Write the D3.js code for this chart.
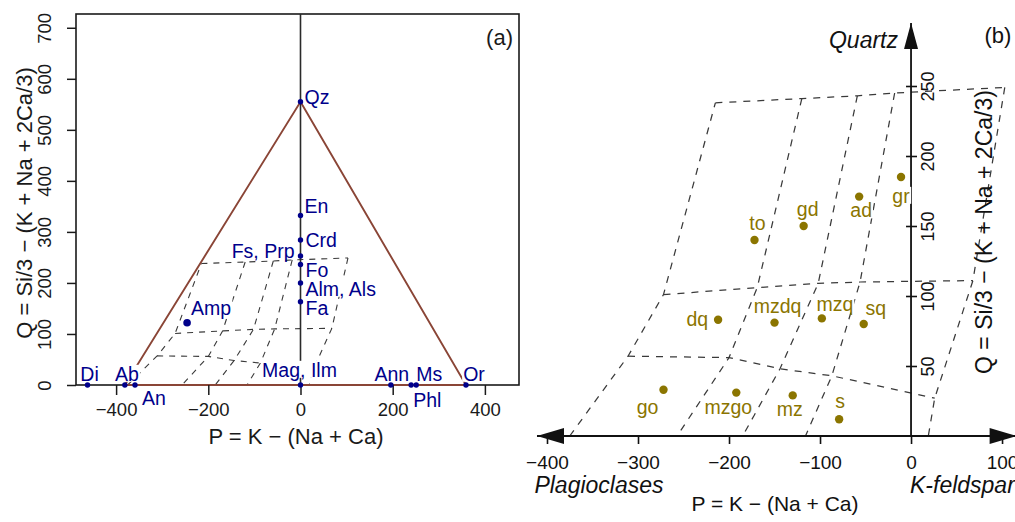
<!DOCTYPE html>
<html>
<head>
<meta charset="utf-8">
<script src="https://d3js.org/d3.v7.min.js"></script>
<style>
  body { margin: 0; background: #fff; }
  text { font-family: "Liberation Sans", Arial, sans-serif; }
</style>
</head>
<body>
<svg id="fig" width="1015" height="522"></svg>
<script>
// ---- panel (a): mineral end-members in the P-Q plane
var minNames = ["Qz", "En", "Crd", "Fs, Prp", "Fo", "Alm, Als", "Fa", "Mag, Ilm",
                "Di", "Ab", "An", "Ann", "Phl", "Ms", "Or"];
var minP = [0, 0, 0, 0, 0, 0, 0, 0, -462, -381, -359, 196, 240, 251, 359];
var minQ = [555, 332, 284, 253, 236, 200, 163, 0, 0, 0, 0, 0, 0, 0, 0];
var ampName = ["Amp"];
var ampP = [-246];
var ampQ = [122];
// triangle Qz - Or - Ab
var triangle = ["Qz", "Or", "Ab"];

// ---- panel (b): rock types
var rockNames = ["to", "gd", "ad", "gr", "dq", "mzdq", "mzq", "sq", "go", "mzgo", "mz", "s"];
var rockP = [-172, -118, -57, -11, -212, -150, -98, -52, -272, -192, -130, -79];
var rockQ = [140, 150, 171, 185, 83, 81, 84, 80, 33, 31, 29, 12];

// ---- field boundaries (same grid in both panels)
var gridTop = [[-215, 238], [-120, 241], [-59, 243], [-18, 245], [103, 249]];
var gridMid = [[-272, 101], [-169, 106], [-102, 109], [-56, 110], [68, 111]];
var gridLow = [[-311, 57], [-200, 56], [-144, 48], [-87, 43], [26, 27]];
var gridLeft = [[-375, 0], [-311, 57], [-272, 101], [-215, 238]];
var gridRight = [[103, 249], [68, 111], [26, 27], [19, 0]];
var gridDiv1 = [[-120, 241], [-169, 106], [-200, 56], [-257, 0]];
var gridDiv2 = [[-59, 243], [-102, 109], [-144, 48], [-185, 0]];
var gridDiv3 = [[-18, 245], [-56, 110], [-87, 43], [-116, 0]];
var grid = [gridTop, gridMid, gridLow, gridLeft, gridRight, gridDiv1, gridDiv2, gridDiv3];

// ---- ticks
var aTicksP = [-400, -200, 0, 200, 400];
var aTicksQ = [0, 100, 200, 300, 400, 500, 600, 700];
var bTicksP = [-400, -300, -200, -100, 0, 100];
var bTicksQ = [50, 100, 150, 200, 250];

var blue = "#00008B", olive = "#8B7500", brown = "#8a4536";
var svg = d3.select("#fig");

// label offsets [dx, dy, anchor] in pixels
var aLab = {
  "Qz": [4, -5, "start"], "En": [4, -9, "start"], "Crd": [5, 0, "start"],
  "Fs, Prp": [-6, -5, "end"], "Fo": [5, 6, "start"], "Alm, Als": [5, 6, "start"],
  "Fa": [5, 6, "start"], "Mag, Ilm": [-1, -15, "middle"], "Di": [2, -11, "middle"],
  "Ab": [2, -11, "middle"], "An": [7, 13, "start"], "Ann": [1, -11, "middle"],
  "Phl": [2, 15, "start"], "Ms": [0, -11, "start"], "Or": [8, -11, "middle"],
  "Amp": [4, -15, "start"]
};
var bLab = {
  "to": [3, -17, "middle"], "gd": [4, -17, "middle"], "ad": [2, 14, "middle"],
  "gr": [0, 19, "middle"], "dq": [-10, -1, "end"], "mzdq": [3, -16, "middle"],
  "mzq": [13, -14, "middle"], "sq": [12, -16, "middle"], "go": [-16, 17, "middle"],
  "mzgo": [-8, 15, "middle"], "mz": [-3, 14, "middle"], "s": [1, -18, "middle"]
};

function label(g, x, y, txt, pos, fill, fs) {
  var lg = g.append("g");
  var r = lg.append("rect").attr("fill", "#fff");
  var t = lg.append("text")
    .attr("x", x + pos[0]).attr("y", y + pos[1]).attr("dy", "0.35em")
    .attr("text-anchor", pos[2]).attr("fill", fill)
    .style("font-size", fs + "px").text(txt);
  var bb = t.node().getBBox();
  r.attr("x", bb.x - 1).attr("y", bb.y + 2).attr("width", bb.width + 2).attr("height", bb.height - 5);
}

// ================= panel (a) =================
var xa = d3.scaleLinear().domain([-487, 474]).range([76, 519]);
var ya = d3.scaleLinear().domain([0, 727]).range([385, 14]);
var ga = svg.append("g");
var lineA = d3.line().x(d => xa(d[0])).y(d => ya(d[1]));

ga.append("rect")
  .attr("x", xa(-487)).attr("y", ya(727))
  .attr("width", xa(474) - xa(-487)).attr("height", ya(0) - ya(727))
  .attr("fill", "none").attr("stroke", "#1a1a1a").attr("stroke-width", 1.6);

ga.selectAll("path.grid").data(grid).enter().append("path")
  .attr("class", "grid").attr("d", lineA)
  .attr("fill", "none").attr("stroke", "#3a3a3a").attr("stroke-width", 1.1)
  .attr("stroke-dasharray", "6,6");

ga.append("line")
  .attr("x1", xa(0)).attr("x2", xa(0)).attr("y1", ya(0)).attr("y2", ya(727))
  .attr("stroke", "#2a2a2a").attr("stroke-width", 1.6);

var triPts = triangle.map(n => { var i = minNames.indexOf(n); return [minP[i], minQ[i]]; });
ga.append("path").attr("d", lineA(triPts) + "Z")
  .attr("fill", "none").attr("stroke", brown).attr("stroke-width", 1.9);

var axA = ga.append("g").attr("transform", "translate(0," + ya(0) + ")")
  .call(d3.axisBottom(xa).tickValues(aTicksP).tickSize(10).tickFormat(d => String(d).replace("-", "\u2212")));
axA.select(".domain").remove();
axA.selectAll("line").attr("stroke", "#1a1a1a").attr("stroke-width", 1.5);
axA.selectAll("text").attr("y", 25).attr("dy", "0.35em").attr("fill", "#1a1a1a")
  .style("font-size", "18.5px").style("font-family", "Liberation Sans, Arial, sans-serif");

var ayA = ga.append("g").attr("transform", "translate(" + xa(-487) + ",0)")
  .call(d3.axisLeft(ya).tickValues(aTicksQ).tickSize(9));
ayA.select(".domain").remove();
ayA.selectAll("line").attr("stroke", "#1a1a1a").attr("stroke-width", 1.5);
ayA.selectAll("text").attr("transform", "rotate(-90)").attr("x", 0).attr("y", -31)
  .attr("dy", "0.35em").attr("text-anchor", "middle").attr("fill", "#1a1a1a")
  .style("font-size", "18.5px").style("font-family", "Liberation Sans, Arial, sans-serif");

ga.append("text").attr("x", 296).attr("y", 436).attr("dy", "0.35em")
  .attr("text-anchor", "middle").style("font-size", "22px").attr("fill", "#1a1a1a")
  .text("P = K \u2212 (Na + Ca)");
ga.append("text").attr("transform", "translate(24,203) rotate(-90)").attr("dy", "0.35em")
  .attr("text-anchor", "middle").style("font-size", "22px").attr("fill", "#1a1a1a")
  .text("Q = Si/3 \u2212 (K + Na + 2Ca/3)");
ga.append("text").attr("x", 513).attr("y", 37).attr("dy", "0.35em")
  .attr("text-anchor", "end").style("font-size", "22px").attr("fill", "#1a1a1a").text("(a)");

minNames.forEach((n, i) => label(ga, xa(minP[i]), ya(minQ[i]), n, aLab[n], blue, 19.5));
ampName.forEach((n, i) => label(ga, xa(ampP[i]), ya(ampQ[i]), n, aLab[n], blue, 19.5));

ga.selectAll("circle.min").data(minNames).enter().append("circle")
  .attr("class", "min").attr("cx", (d, i) => xa(minP[i])).attr("cy", (d, i) => ya(minQ[i]))
  .attr("r", 2.7).attr("fill", blue);
ga.selectAll("circle.amp").data(ampName).enter().append("circle")
  .attr("class", "amp").attr("cx", (d, i) => xa(ampP[i])).attr("cy", (d, i) => ya(ampQ[i]))
  .attr("r", 3.8).attr("fill", blue);

// ================= panel (b) =================
var xb = d3.scaleLinear().domain([-420, 116]).range([528.8, 1016.6]);
var yb = d3.scaleLinear().domain([0, 295]).range([436, 23]);
var gb = svg.append("g");
var lineB = d3.line().x(d => xb(d[0])).y(d => yb(d[1]));

gb.selectAll("path.grid").data(grid).enter().append("path")
  .attr("class", "grid").attr("d", lineB)
  .attr("fill", "none").attr("stroke", "#3a3a3a").attr("stroke-width", 1.25)
  .attr("stroke-dasharray", "7,7");

// axes with arrows
var axB = gb.append("g").attr("transform", "translate(0," + yb(0) + ")")
  .call(d3.axisBottom(xb).tickValues(bTicksP).tickSize(8).tickFormat(d => String(d).replace("-", "\u2212")));
axB.select(".domain").remove();
axB.selectAll("line").attr("stroke", "#111").attr("stroke-width", 1.6);
axB.selectAll("text").attr("y", 26).attr("dy", "0.35em").attr("fill", "#111")
  .style("font-size", "19px").style("font-family", "Liberation Sans, Arial, sans-serif");

var ayB = gb.append("g").attr("transform", "translate(" + xb(0) + ",0)")
  .call(d3.axisRight(yb).tickValues(bTicksQ).tickSize(6));
ayB.select(".domain").remove();
ayB.selectAll("line").attr("x1", -5).attr("stroke", "#111").attr("stroke-width", 1.6);
ayB.selectAll("text").attr("transform", "rotate(-90)").attr("x", 0).attr("y", 17)
  .attr("dy", "0.35em").attr("text-anchor", "middle").attr("fill", "#111")
  .style("font-size", "18px").style("font-family", "Liberation Sans, Arial, sans-serif");

gb.append("line").attr("x1", xb(-411)).attr("x2", xb(116)).attr("y1", yb(0)).attr("y2", yb(0))
  .attr("stroke", "#111").attr("stroke-width", 1.8);
gb.append("line").attr("x1", xb(0)).attr("x2", xb(0)).attr("y1", yb(0)).attr("y2", yb(295))
  .attr("stroke", "#111").attr("stroke-width", 1.8);
// arrow heads
var x0 = xb(-411), x1 = xb(116), y0 = yb(0), yt = yb(295), cx = xb(0);
gb.append("path").attr("d", "M" + x0 + "," + y0 + "L" + (x0 + 27) + "," + (y0 - 8) + "L" + (x0 + 27) + "," + (y0 + 8) + "Z").attr("fill", "#111");
gb.append("path").attr("d", "M" + x1 + "," + y0 + "L" + (x1 - 27) + "," + (y0 - 8) + "L" + (x1 - 27) + "," + (y0 + 8) + "Z").attr("fill", "#111");
gb.append("path").attr("d", "M" + cx + "," + yt + "L" + (cx - 7) + "," + (yt + 26) + "L" + (cx + 7) + "," + (yt + 26) + "Z").attr("fill", "#111");

gb.append("text").attr("x", 898).attr("y", 40).attr("dy", "0.35em").attr("text-anchor", "end")
  .style("font-size", "23px").style("font-style", "italic").attr("fill", "#111").text("Quartz");
gb.append("text").attr("x", 998).attr("y", 35).attr("dy", "0.35em").attr("text-anchor", "middle")
  .style("font-size", "22px").attr("fill", "#111").text("(b)");
gb.append("text").attr("x", 599).attr("y", 485).attr("dy", "0.35em").attr("text-anchor", "middle")
  .style("font-size", "23px").style("font-style", "italic").attr("fill", "#111").text("Plagioclases");
gb.append("text").attr("x", 910).attr("y", 485).attr("dy", "0.35em").attr("text-anchor", "start")
  .style("font-size", "23px").style("font-style", "italic").attr("fill", "#111").text("K-feldspar");
gb.append("text").attr("x", 775).attr("y", 504).attr("dy", "0.35em").attr("text-anchor", "middle")
  .style("font-size", "21px").attr("fill", "#111").text("P = K \u2212 (Na + Ca)");
gb.append("text").attr("transform", "translate(984,232) rotate(-90)").attr("dy", "0.35em")
  .attr("text-anchor", "middle").style("font-size", "23px").attr("fill", "#111")
  .text("Q = Si/3 \u2212 (K + Na + 2Ca/3)");

rockNames.forEach((n, i) => label(gb, xb(rockP[i]), yb(rockQ[i]), n, bLab[n], olive, 19.5));
gb.selectAll("circle.rock").data(rockNames).enter().append("circle")
  .attr("class", "rock").attr("cx", (d, i) => xb(rockP[i])).attr("cy", (d, i) => yb(rockQ[i]))
  .attr("r", 4.2).attr("fill", olive);
</script>
</body>
</html>
